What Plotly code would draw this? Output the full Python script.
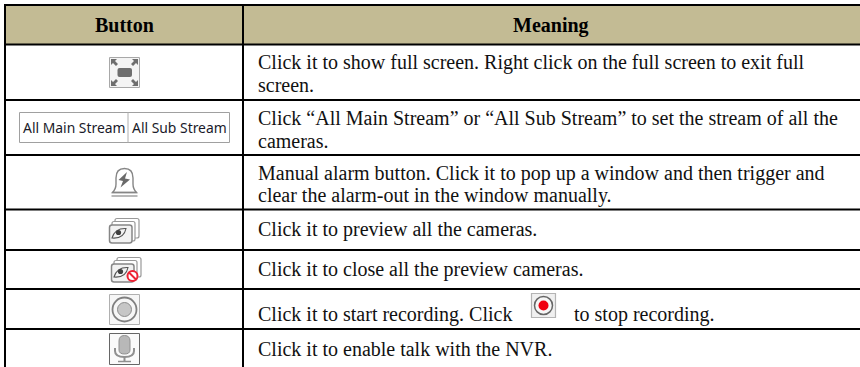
import plotly.graph_objects as go

# ---- content ----
headers = ["Button", "Meaning"]
button_label_left = "All Main Stream"
button_label_right = "All Sub Stream"
meaning_lines = [
    ["Click it to show full screen. Right click on the full screen to exit full", "screen."],
    ["Click “All Main Stream” or “All Sub Stream” to set the stream of all the", "cameras."],
    ["Manual alarm button. Click it to pop up a window and then trigger and", "clear the alarm-out in the window manually."],
    ["Click it to preview all the cameras."],
    ["Click it to close all the preview cameras."],
    ["Click it to start recording. Click"],
    ["Click it to enable talk with the NVR."],
]
trailing_text = "to stop recording."

# ---- layout constants ----
W, H = 860, 367
LEFT, DIV, TOP, HEAD = 5, 243, 5, 44.5
ROW_LINES = [100, 155, 209.5, 250, 289, 329]
TEXT_Y = [[62.5, 85], [118, 141], [173, 195.5], [229], [269], [314], [349]]
TEXT_X = 258
SERIF = "Liberation Serif"
BLACK = "#000000"
HEAD_BG = "#c3bb94"
TXT = "#111111"
GR = "#6e6e6e"

shapes, ann = [], []

def rect(x0, y0, x1, y1, fill="rgba(0,0,0,0)", line=None, w=1):
    shapes.append(dict(type="rect", x0=x0, y0=y0, x1=x1, y1=y1, fillcolor=fill,
                       line=dict(color=line or "rgba(0,0,0,0)", width=w if line else 0), layer="above"))

def seg(x0, y0, x1, y1, color=BLACK, w=2):
    shapes.append(dict(type="line", x0=x0, y0=y0, x1=x1, y1=y1, line=dict(color=color, width=w), layer="above"))

def path(d, fill="rgba(0,0,0,0)", line=None, w=1):
    shapes.append(dict(type="path", path=d, fillcolor=fill,
                       line=dict(color=line or "rgba(0,0,0,0)", width=w if line else 0), layer="above"))

def circle(cx, cy, r, fill="rgba(0,0,0,0)", line=None, w=1):
    shapes.append(dict(type="circle", x0=cx - r, y0=cy - r, x1=cx + r, y1=cy + r, fillcolor=fill,
                       line=dict(color=line or "rgba(0,0,0,0)", width=w if line else 0), layer="above"))

def rrect(x0, y0, x1, y1, r, fill, line, w):
    path(f"M {x0 + r} {y0} L {x1 - r} {y0} Q {x1} {y0} {x1} {y0 + r} L {x1} {y1 - r} Q {x1} {y1} {x1 - r} {y1} "
         f"L {x0 + r} {y1} Q {x0} {y1} {x0} {y1 - r} L {x0} {y0 + r} Q {x0} {y0} {x0 + r} {y0} Z", fill=fill, line=line, w=w)

def text(x, y, s, size=20, anchor="left", color=TXT, family=SERIF):
    ann.append(dict(x=x, y=y, text=s, showarrow=False, xanchor=anchor, yanchor="middle",
                    font=dict(family=family, size=size, color=color), xref="x", yref="y",
                    borderpad=0, borderwidth=0))

# header + grid
rect(LEFT, TOP, W, HEAD, fill=HEAD_BG)
seg(LEFT, TOP, W, TOP)
seg(LEFT, HEAD, W, HEAD)
for y in ROW_LINES:
    seg(LEFT, y, W, y)
seg(LEFT, TOP - 1, LEFT, H)
seg(DIV, TOP - 1, DIV, H)

text(124.5, 25, "<b>%s</b>" % headers[0], size=20, anchor="center", color="#000000")
text(551, 25, "<b>%s</b>" % headers[1], size=20, anchor="center", color="#000000")

for lines, ys in zip(meaning_lines, TEXT_Y):
    for s, y in zip(lines, ys):
        text(TEXT_X, y, s)
text(574, 314, trailing_text)

# full-screen icon
rect(109.5, 57.5, 139.5, 87.5, fill="#f4f4f4", line="#a8a8a8", w=1)
path("M 117.5 70 Q 117.5 68 119.5 68 L 130 68 Q 132 68 132 70 L 132 75 Q 132 77 130 77 L 119.5 77 Q 117.5 77 117.5 75 Z", fill=GR)
for a, b, c, d in [(111, 59, 1, 1), (138, 59, -1, 1), (111, 86, 1, -1), (138, 86, -1, -1)]:
    path(f"M {a} {b} L {a + 6 * c} {b} L {a + 4 * c} {b + 2 * d} L {a + 7 * c} {b + 5 * d} L {a + 5 * c} {b + 7 * d} L {a + 2 * c} {b + 4 * d} L {a} {b + 6 * d} Z", fill=GR)

# stream buttons
rect(19.5, 112.5, 229.5, 142.5, fill="#ffffff", line="#a0a0a0")
seg(128, 112.5, 128, 142.5, color="#b0b0b0", w=1)
text(74, 127, button_label_left, size=13.9, anchor="center", color="#1a1a2a", family="Noto Sans")
text(179.5, 127, button_label_right, size=13.9, anchor="center", color="#1a1a2a", family="Noto Sans")

# alarm icon
path("M 112.5 192.5 Q 116 189 116 184 L 116 178 Q 116 168.5 124.5 168.5 Q 133 168.5 133 178 L 133 184 Q 133 189 136.5 192.5 Z", fill="#ffffff", line="#868686", w=1.4)
seg(112, 192.5, 137, 192.5, color="#868686", w=1.4)
seg(111.5, 196, 137.5, 196, color="#9a9a9a", w=1.4)
path("M 127 172 L 118.5 180 L 123 181 L 120.5 187.5 L 130 179.5 L 125 178.5 Z", fill="#6a6a6a")

# preview icon helper
def stack(dx, dy):
    rrect(115 + dx, 218.5 + dy, 139 + dx, 238 + dy, 2, "#ffffff", "#999999", 1.2)
    rrect(112 + dx, 221.5 + dy, 135 + dx, 241 + dy, 2, "#ffffff", "#999999", 1.2)
    rrect(109.5 + dx, 225 + dy, 132 + dx, 243 + dy, 2.5, "#f2f2f2", "#868686", 1.5)
    path(f"M {112 + dx} {238 + dy} Q {115 + dx} {228 + dy} {126 + dx} {228.5 + dy} Q {124 + dx} {239 + dy} {112 + dx} {238 + dy} Z", line="#555555", w=1.1)
    circle(118.5 + dx, 232.5 + dy, 2.6, fill="#3e3e3e")

stack(0, 0)
stack(2, 39)
circle(132.5, 276, 5, fill="#ffffff", line="#ee2233", w=2)
seg(129, 272.5, 136, 279.5, color="#ee2233", w=2)

# record icon
rect(109.5, 294.5, 139.5, 324.5, fill="#f6f6f6", line="#b0b0b0")
circle(124.5, 309.5, 12, fill="#f6f6f6", line="#808080", w=1.8)
circle(124.5, 309.5, 7, fill="#c6c6c6", line="#8c8c8c", w=1)

# red record button in text
rect(531.5, 293.5, 555.5, 317.5, fill="#f0f0f0", line="#b4b4b4", w=1.2)
circle(543.5, 305.5, 9, fill="#f6f6f6", line="#666666", w=1.5)
circle(543.5, 305.5, 5, fill="#f00010")

# mic icon
rect(109.5, 333.5, 139.5, 364.5, fill="#fafafa", line="#666666")
path("M 119 341 Q 119 335.5 124.5 335.5 Q 130 335.5 130 341 L 130 350 Q 130 354 124.5 354 Q 119 354 119 350 Z", fill="#b8b8b8", line="#909090")
path("M 115 348 L 115 351 Q 115 357 124.5 357 Q 134 357 134 351 L 134 348", line="#909090", w=2)
seg(124.5, 357, 124.5, 361, color="#909090", w=2)
seg(118, 361.5, 131, 361.5, color="#909090", w=1.5)

fig = go.Figure()
fig.update_layout(
    width=W, height=H, margin=dict(l=0, r=0, t=0, b=0),
    paper_bgcolor="#ffffff", plot_bgcolor="#ffffff", showlegend=False,
    xaxis=dict(range=[0, W], visible=False, fixedrange=True),
    yaxis=dict(range=[H, 0], visible=False, fixedrange=True),
    shapes=shapes, annotations=ann,
)
fig.write_html("out.html", config={"displayModeBar": False},
               post_script="document.body.style.margin='0';document.body.style.overflow='hidden';")
